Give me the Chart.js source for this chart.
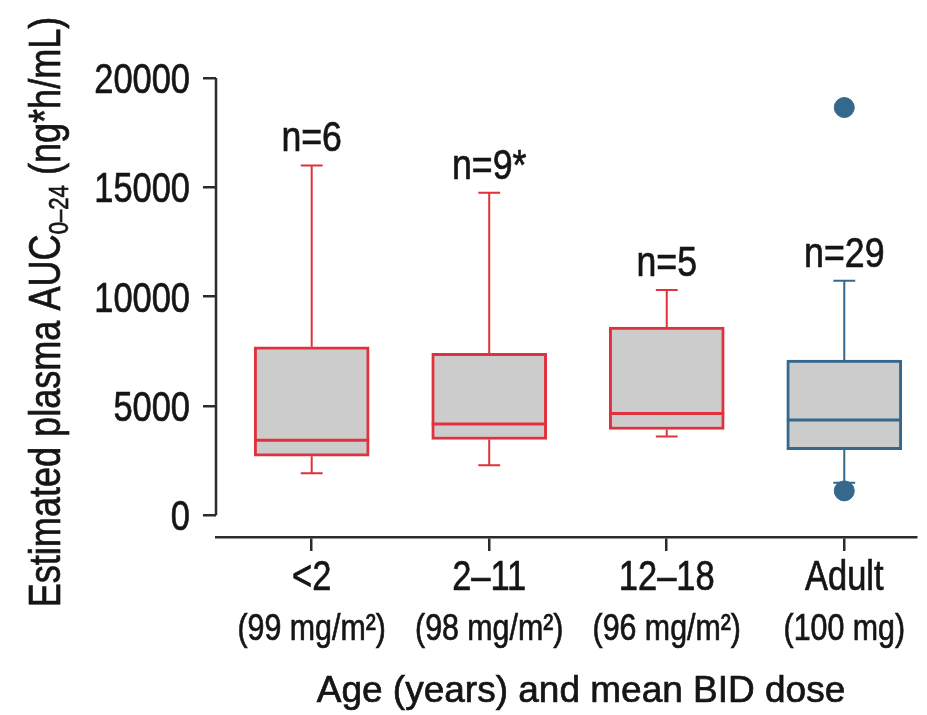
<!DOCTYPE html>
<html>
<head>
<meta charset="utf-8">
<script src="https://cdn.jsdelivr.net/npm/chart.js@4.4.0/dist/chart.umd.min.js"></script>
<style>
  html, body { margin: 0; padding: 0; background: #fff; }
  #wrap { width: 927px; height: 715px; }
</style>
</head>
<body>
<div id="wrap"><canvas id="grafico"></canvas></div>
<script>
// Grupos e valores
const categories = ['<2', '2–11', '12–18', 'Adult'];
const doses = ['(99 mg/m²)', '(98 mg/m²)', '(96 mg/m²)', '(100 mg)'];
const counts = ['n=6', 'n=9*', 'n=5', 'n=29'];
const whiskerLow = [1920, 2280, 3600, 1480];
const q1 = [2700, 3460, 3920, 3000];
const median = [3430, 4170, 4650, 4350];
const q3 = [7700, 7400, 8600, 7100];
const whiskerHigh = [16000, 14750, 10300, 10720];
const outlierGroup = [3, 3];
const outlierValue = [18650, 1110];
const yTicks = [0, 5000, 10000, 15000, 20000];

const FONT = "'Liberation Sans', Arial, sans-serif";
const NARROW = 0.82; // a fonte original é condensada
const red = '#e0323c';
const blue = '#35688d';
const boxColors = [red, red, red, blue];
const axisColor = '#2b2b2b';
const textColor = '#151515';

// Texto condensado horizontalmente (com leve contorno para ficar mais encorpado)
function drawText(ctx, text, x, y, size, align, sx) {
    ctx.save();
    ctx.translate(x, y);
    ctx.scale(sx, 1);
    ctx.font = size + 'px ' + FONT;
    ctx.textAlign = align;
    ctx.textBaseline = 'alphabetic';
    ctx.fillStyle = textColor;
    ctx.strokeStyle = textColor;
    ctx.lineWidth = 0.7;
    ctx.fillText(text, 0, 0);
    ctx.strokeText(text, 0, 0);
    ctx.restore();
}

// Bigodes, medianas, eixo y e textos
const boxExtras = {
    id: 'boxExtras',
    beforeDatasetsDraw(chart) {
        const ctx = chart.ctx;
        const x = chart.scales.x, y = chart.scales.y;
        const bars = chart.getDatasetMeta(0).data;
        ctx.save();
        ctx.lineWidth = 2;
        categories.forEach((c, i) => {
            const px = x.getPixelForValue(i);
            const half = bars[i].width * 0.095;
            const yHi = y.getPixelForValue(whiskerHigh[i]);
            const yLo = y.getPixelForValue(whiskerLow[i]);
            ctx.strokeStyle = boxColors[i];
            ctx.beginPath();
            ctx.moveTo(px, y.getPixelForValue(q3[i]));
            ctx.lineTo(px, yHi);
            ctx.moveTo(px - half, yHi);
            ctx.lineTo(px + half, yHi);
            ctx.moveTo(px, y.getPixelForValue(q1[i]));
            ctx.lineTo(px, yLo);
            ctx.moveTo(px - half, yLo);
            ctx.lineTo(px + half, yLo);
            ctx.stroke();
        });
        ctx.restore();
    },
    afterDatasetsDraw(chart) {
        const ctx = chart.ctx;
        const x = chart.scales.x, y = chart.scales.y;
        const bars = chart.getDatasetMeta(0).data;
        ctx.save();
        ctx.lineWidth = 3;
        categories.forEach((c, i) => {
            const px = x.getPixelForValue(i);
            const half = bars[i].width / 2;
            const py = y.getPixelForValue(median[i]);
            ctx.strokeStyle = boxColors[i];
            ctx.beginPath();
            ctx.moveTo(px - half, py);
            ctx.lineTo(px + half, py);
            ctx.stroke();
        });
        ctx.restore();
    },
    afterDraw(chart) {
        const ctx = chart.ctx;
        const x = chart.scales.x, y = chart.scales.y;
        const area = chart.chartArea;

        // eixo y só de 0 a 20000
        ctx.save();
        ctx.strokeStyle = axisColor;
        ctx.lineWidth = 2.5;
        ctx.beginPath();
        ctx.moveTo(area.left, y.getPixelForValue(yTicks[0]));
        ctx.lineTo(area.left, y.getPixelForValue(yTicks[yTicks.length - 1]));
        ctx.stroke();
        ctx.restore();

        // rótulos do eixo y
        y.ticks.forEach(t => {
            drawText(ctx, String(t.value), area.left - 26, y.getPixelForValue(t.value) + 15, 42, 'right', NARROW);
        });

        // rótulos do eixo x (duas linhas)
        x.ticks.forEach(t => {
            const px = x.getPixelForValue(t.value);
            drawText(ctx, categories[t.value], px, 590, 42, 'center', NARROW);
            drawText(ctx, doses[t.value], px, 640, 37, 'center', NARROW);
        });

        // n= acima dos bigodes
        counts.forEach((t, i) => {
            drawText(ctx, t, x.getPixelForValue(i), y.getPixelForValue(whiskerHigh[i]) - 14, 42, 'center', 0.85);
        });

        // título do eixo x
        drawText(ctx, 'Age (years) and mean BID dose', 581, 702, 37, 'center', 1);

        // título do eixo y com subscrito
        const main = 'Estimated plasma AUC', sub = '0–24', tail = ' (ng*h/mL)';
        ctx.save();
        ctx.font = '44px ' + FONT;
        const wMain = ctx.measureText(main).width * NARROW;
        const wTail = ctx.measureText(tail).width * NARROW;
        ctx.font = '27px ' + FONT;
        const wSub = ctx.measureText(sub).width * NARROW;
        const total = wMain + wSub + wTail;
        ctx.translate(60, 312);
        ctx.rotate(-Math.PI / 2);
        let pos = -total / 2;
        drawText(ctx, main, pos, 0, 44, 'left', NARROW);
        pos += wMain;
        drawText(ctx, sub, pos, 8, 27, 'left', NARROW);
        pos += wSub;
        drawText(ctx, tail, pos, 0, 44, 'left', NARROW);
        ctx.restore();
    }
};

const ctx = document.getElementById('grafico').getContext('2d');
window.grafico = new Chart(ctx, {
    type: 'bar',
    data: {
        datasets: [{
            type: 'bar',
            data: categories.map((c, i) => ({ x: i, y: [q1[i], q3[i]] })),
            backgroundColor: '#cccccc',
            borderColor: boxColors,
            borderWidth: 3,
            borderSkipped: false,
            barThickness: 115
        }, {
            type: 'scatter',
            data: outlierGroup.map((g, i) => ({ x: g, y: outlierValue[i] })),
            backgroundColor: blue,
            borderColor: blue,
            pointRadius: 10,
            pointHoverRadius: 10
        }]
    },
    options: {
        responsive: true,
        maintainAspectRatio: false,
        animation: false,
        layout: { padding: { left: 0, top: 78, right: 9, bottom: 0 } },
        plugins: {
            legend: { display: false },
            tooltip: { enabled: false }
        },
        scales: {
            x: {
                type: 'linear',
                offset: false,
                min: -0.539,
                max: 3.404,
                afterBuildTicks: s => { s.ticks = categories.map((c, i) => ({ value: i })); },
                afterFit: s => { s.height = 178; },
                ticks: { display: false },
                grid: { offset: false, drawOnChartArea: false, tickLength: 14, color: axisColor, lineWidth: 2.5 },
                border: { display: true, color: axisColor, width: 2.5 }
            },
            y: {
                min: -1000,
                max: 20000,
                afterBuildTicks: s => { s.ticks = yTicks.map(v => ({ value: v })); },
                afterFit: s => { s.width = 216; },
                ticks: { display: false },
                grid: { drawOnChartArea: false, tickLength: 13, color: axisColor, lineWidth: 2.5 },
                border: { display: false }
            }
        }
    },
    plugins: [boxExtras]
});
</script>
</body>
</html>
